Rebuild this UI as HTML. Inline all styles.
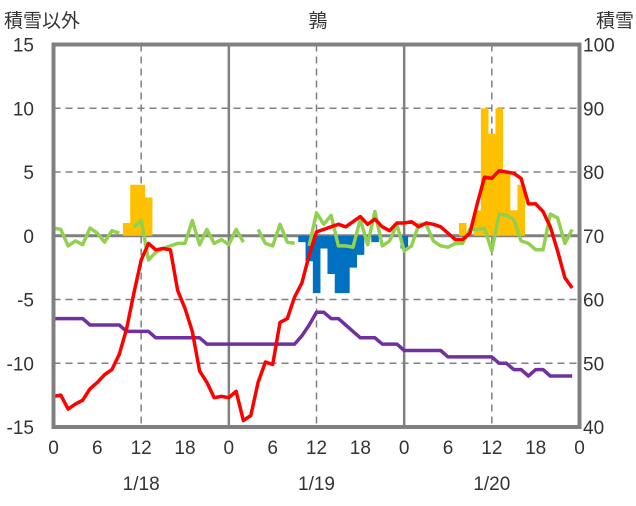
<!DOCTYPE html>
<html><head><meta charset="utf-8">
<style>
body{margin:0;background:#fff;}
svg text{font-family:"Liberation Sans","Noto Sans CJK JP",sans-serif;fill:#333;}
</style></head>
<body>
<svg id="chart" width="636" height="501" viewBox="0 0 636 501" xmlns="http://www.w3.org/2000/svg">
<g id="grid"></g><g id="bars"></g><g id="lines"></g><g id="axes"></g>
</svg>
<script>
const hours = Array.from({length:72},(_,i)=>i);
const xTickLabels = ["0","6","12","18","0","6","12","18","0","6","12","18","0"];
const dateLabels = ["1/18","1/19","1/20"];
const leftTicks = [-15,-10,-5,0,5,10,15];
const rightTicks = [40,50,60,70,80,90,100];
const temperature = [-12.6,-12.5,-13.6,-13.2,-12.9,-12.0,-11.5,-10.9,-10.5,-9.3,-7.3,-4.5,-1.9,-0.6,-1.1,-1.0,-1.1,-4.3,-5.7,-7.5,-10.6,-11.5,-12.7,-12.6,
-12.7,-12.2,-14.5,-14.1,-11.5,-9.9,-10.1,-6.8,-6.5,-4.8,-3.7,-1.5,0.3,0.5,0.7,0.9,0.7,1.1,1.5,0.9,1.3,0.7,0.4,1.0,
1.0,1.1,0.7,1.0,0.9,0.7,0.2,-0.3,-0.3,0.2,2.5,4.6,4.5,5.1,5.0,4.9,4.5,2.5,2.5,1.9,0.7,-1.2,-3.3,-4.1];
const wind = [0.6,0.5,-0.8,-0.4,-0.7,0.6,0.2,-0.5,0.4,0.2,null,0.7,1.2,-1.9,-1.3,-1.0,-0.8,-0.6,-0.6,1.2,-0.7,0.5,-0.6,-0.3,
-0.7,0.5,-0.5,null,0.5,-0.6,-0.8,0.9,-0.5,-0.6,null,-0.8,1.8,0.9,1.6,-0.8,-0.8,-0.9,1.3,-0.7,1.9,-0.8,-0.4,0.9,
-1.2,-0.8,0.9,0.9,-0.4,-0.8,-0.9,-0.6,-0.6,0.5,0.5,0.6,-1.2,1.7,1.6,1.3,-0.4,-0.6,-1.1,-1.1,1.7,1.4,-0.6,0.5];
const snowDepth = [57,57,57,57,57,56,56,56,56,56,55,55,55,55,54,54,54,54,54,54,54,53,53,53,
53,53,53,53,53,53,53,53,53,53,54.3,56,58,58,57,57,56,55,54,54,54,53,53,53,
52,52,52,52,52,52,51,51,51,51,51,51,51,50,50,49,49,48,49,49,48,48,48,48];
const snowfall = [0,0,0,0,0,0,0,0,0,0,1,4,4,3,0,0,0,0,0,0,0,0,0,0,
0,0,0,0,0,0,0,0,0,0,0,0,0,0,0,0,0,0,0,0,0,0,0,0,
0,0,0,0,0,0,0,0,1,0,2,10,8,10,5,2,4,0,0,0,0,0,0,0];
const snowLoss = [0,0,0,0,0,0,0,0,0,0,0,0,0,0,0,0,0,0,0,0,0,0,0,0,
0,0,0,0,0,0,0,0,0,0,-0.5,-2.0,-4.5,-1.0,-3.0,-4.5,-4.5,-2.5,-1.5,-0.1,-0.5,0,0,0,
-1.0,0,0,0,0,0,0,0,0,0,0,0,0,0,0,0,0,0,0,0,0,0,0,0];

const X0=53.5,X1=579.5,Y0=44.5,Y1=427;
const HW=(X1-X0)/72;
const xc=h=>X0+h*HW;
const yL=v=>Y1-(v+15)/30*(Y1-Y0);
const yR=v=>Y1-(v-40)/60*(Y1-Y0);
const NS='http://www.w3.org/2000/svg';
function mk(tag,attrs,parent){const e=document.createElementNS(NS,tag);for(const k in attrs)e.setAttribute(k,attrs[k]);parent.appendChild(e);return e;}
const grid=document.getElementById('grid'),bars=document.getElementById('bars'),lines=document.getElementById('lines'),axes=document.getElementById('axes');

leftTicks.forEach(v=>{
  if(v===-15||v===15||v===0)return;
  const l=mk('line',{x1:X0,x2:X1,y1:yL(v),y2:yL(v),stroke:'#808080','stroke-width':1.5,'stroke-dasharray':'7,5'},grid);
  
  
});
for(let k=1;k<6;k++){
  const x=xc(k*12);
  const solid=(k%2===0);
  const l=mk('line',{x1:x,x2:x,y1:Y0,y2:Y1,stroke:'#808080','stroke-width':solid?2.5:1.5,'stroke-dasharray':solid?'none':'7,5'},grid);
  
  
}

hours.forEach(h=>{
  if(snowfall[h]>0){
    const r=mk('rect',{x:xc(h)-HW/2,y:yL(snowfall[h]),width:HW+0.3,height:yL(0)-yL(snowfall[h]),fill:'#FFC000'},bars);
    
    
  }
  if(snowLoss[h]<0){
    const r=mk('rect',{x:xc(h)-HW/2,y:yL(0),width:HW+0.3,height:yL(snowLoss[h])-yL(0),fill:'#0070C0'},bars);
    
    
  }
});

const z=mk('line',{x1:X0,x2:X1,y1:yL(0),y2:yL(0),stroke:'#808080','stroke-width':3},grid);



function path(arr,yf,color,name){
  let d='',pen=false;
  arr.forEach((v,h)=>{ if(v===null){pen=false;return;} d+=(pen?'L':'M')+xc(h).toFixed(1)+','+yf(v).toFixed(1); pen=true;});
  const p=mk('path',{d:d,fill:'none',stroke:color,'stroke-width':3.5,'stroke-linejoin':'round'},lines);
  
  
}
path(snowDepth,yR,'#7030A0','snow-depth-line');
path(wind,yL,'#92D050','green-series-line');
path(temperature,yL,'#FF0000','temperature-line');

const b=mk('rect',{x:X0,y:Y0,width:X1-X0,height:Y1-Y0,fill:'none',stroke:'#808080','stroke-width':4},axes);



leftTicks.forEach(v=>{
  const t=mk('text',{x:34,y:yL(v)+7,'text-anchor':'end','font-size':19},axes);
  t.textContent=String(v);
  
  
});
rightTicks.forEach(v=>{
  const t=mk('text',{x:583,y:yR(v)+7,'text-anchor':'start','font-size':19},axes);
  t.textContent=String(v);
  
  
});
xTickLabels.forEach((s,i)=>{
  const t=mk('text',{x:xc(i*6),y:454,'text-anchor':'middle','font-size':19},axes);
  t.textContent=s;
  
  
});
dateLabels.forEach((s,i)=>{
  const t=mk('text',{x:xc(i*24+12),y:490,'text-anchor':'middle','font-size':19},axes);
  t.textContent=s;
  
  
});
[[4,'start','積雪以外','left-axis-title'],[318,'middle','鶉','chart-title'],[634,'end','積雪','right-axis-title']].forEach(a=>{
  const t=mk('text',{x:a[0],y:27,'text-anchor':a[1],'font-size':19},axes);
  t.textContent=a[2];
  
  
});
</script>
</body></html>
